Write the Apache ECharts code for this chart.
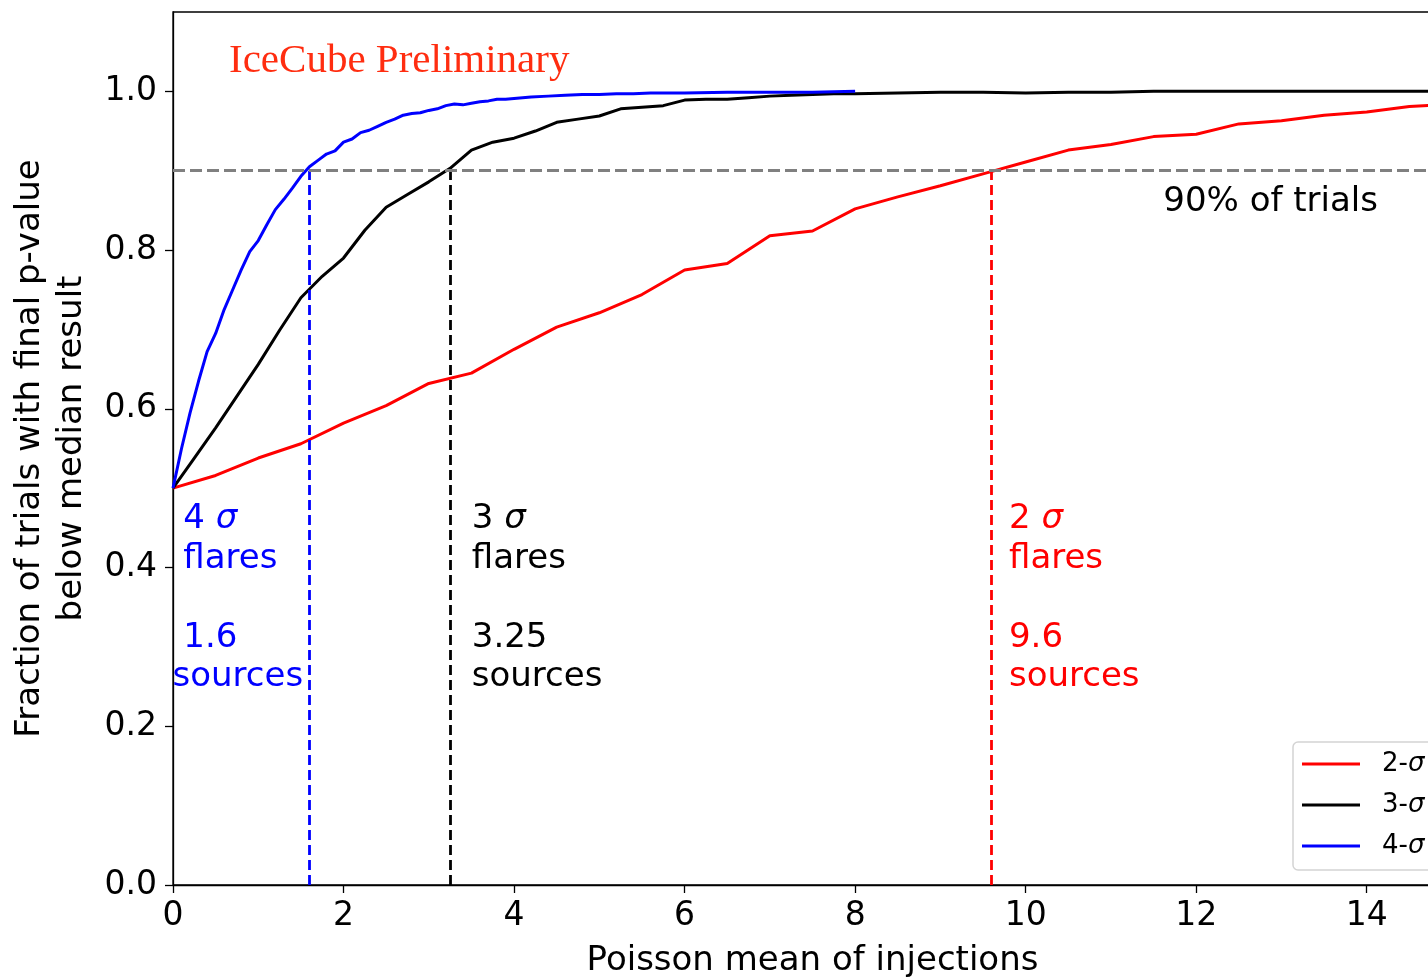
<!DOCTYPE html>
<html>
<head>
<meta charset="utf-8">
<script src="https://cdn.jsdelivr.net/npm/echarts@6/dist/echarts.min.js"></script>
<style>
html,body{margin:0;padding:0;background:#fff;}
#chart{width:1428px;height:978px;}
</style>
</head>
<body>
<div id="chart"></div>
<script>
// ---- data ----
const xTicks = [0, 2, 4, 6, 8, 10, 12, 14];
const yTicks = [0, 0.2, 0.4, 0.6, 0.8, 1.0];

const redX = [0,0.5,1,1.5,2,2.5,3,3.5,4,4.5,5,5.5,6,6.5,7,7.5,8,8.5,9,9.5,10,10.5,11,11.5,12,12.5,13,13.5,14,14.5,15];
const redY = [0.500,0.516,0.538,0.556,0.582,0.604,0.632,0.645,0.675,0.703,0.721,0.744,0.775,0.783,0.818,0.824,0.852,0.867,0.881,0.896,0.911,0.926,0.933,0.943,0.946,0.959,0.963,0.970,0.974,0.981,0.984];

const blackX = [0,0.25,0.5,0.75,1,1.25,1.5,1.75,2,2.25,2.5,2.75,3,3.25,3.5,3.75,4,4.25,4.5,4.75,5,5.25,5.5,5.75,6,6.25,6.5,6.75,7,7.25,7.5,7.75,8,8.5,9,9.5,10,10.5,11,11.5,12,12.5,13,13.5,14,14.5,15];
const blackY = [0.500,0.538,0.576,0.616,0.656,0.699,0.740,0.767,0.790,0.825,0.854,0.870,0.886,0.903,0.926,0.936,0.941,0.950,0.961,0.965,0.969,0.978,0.980,0.982,0.989,0.990,0.990,0.992,0.994,0.995,0.996,0.997,0.997,0.998,0.999,0.999,0.998,0.999,0.999,1.000,1.000,1.000,1.000,1.000,1.000,1.000,1.000];

const blueX = [0,0.1,0.2,0.3,0.4,0.5,0.6,0.7,0.8,0.9,1.0,1.1,1.2,1.3,1.4,1.5,1.6,1.7,1.8,1.9,2.0,2.1,2.2,2.3,2.4,2.5,2.6,2.7,2.8,2.9,3.0,3.1,3.2,3.3,3.4,3.5,3.6,3.7,3.8,3.9,4.0,4.2,4.4,4.6,4.8,5.0,5.2,5.4,5.6,5.8,6.0,6.5,7.0,7.5,8.0];
const blueY = [0.500,0.550,0.595,0.635,0.672,0.695,0.725,0.750,0.775,0.798,0.812,0.832,0.851,0.864,0.878,0.893,0.905,0.913,0.921,0.925,0.936,0.940,0.948,0.951,0.956,0.961,0.965,0.970,0.972,0.973,0.976,0.978,0.982,0.984,0.983,0.985,0.987,0.988,0.990,0.990,0.991,0.993,0.994,0.995,0.996,0.996,0.997,0.997,0.998,0.998,0.998,0.999,0.999,0.999,1.000];

const seriesNames = ['2-σ', '3-σ', '4-σ'];
const seriesColors = ['#ff0000', '#000000', '#0000ff'];
const threshold = 0.9;
const sourcesAt = [9.6, 3.25, 1.6];   // red, black, blue

const zip = (xs, ys) => xs.map((x, i) => [x, ys[i]]);

const FONT = 'DejaVu Sans';
const chart = echarts.init(document.getElementById('chart'), null, {renderer: 'canvas'});

function vLine(x, color) {
  return {
    silent: true,
    symbol: ['none', 'none'],
    label: {show: false},
    lineStyle: {color: color, type: [10, 5], width: 2.8},
    data: [[{coord: [x, 0]}, {coord: [x, threshold]}]]
  };
}

const annoRich = (color) => ({
  n: {fontFamily: FONT, fontSize: 34, color: color, lineHeight: 39.5},
  s: {fontFamily: FONT, fontSize: 34, color: color, lineHeight: 39.5, fontStyle: 'italic'}
});

function annotation(x, y, formatter, color) {
  return {
    type: 'scatter',
    silent: true,
    symbolSize: 1,
    itemStyle: {color: 'rgba(0,0,0,0)', opacity: 1},
    z: 5,
    data: [[x, y]],
    label: {
      show: true,
      opacity: 1,
      position: [0, 0],
      align: 'left',
      verticalAlign: 'top',
      lineHeight: 39.5,
      formatter: formatter,
      rich: annoRich(color)
    }
  };
}

const option = {
  animation: false,
  backgroundColor: '#ffffff',
  title: {
    text: 'IceCube Preliminary',
    left: 229,
    top: 41,
    padding: 0,
    textStyle: {fontFamily: 'Liberation Serif', fontSize: 41, fontWeight: 'normal', color: '#ff2d10'}
  },
  grid: {
    left: 173, right: -24, top: 12, bottom: 93,
    outerBoundsMode: 'none',
    containLabel: false,
    show: true, borderColor: '#000', borderWidth: 1.3, backgroundColor: 'transparent'
  },
  legend: {
    data: seriesNames,
    orient: 'vertical',
    left: 1293,
    top: 742,
    padding: [7, 60, 9, 9],
    itemGap: 11,
    itemWidth: 58,
    itemHeight: 3,
    icon: 'rect',
    backgroundColor: 'rgba(255,255,255,0.85)',
    borderColor: '#d4d4d4',
    borderWidth: 1.5,
    borderRadius: 5,
    formatter: (name) => '{g| }{n|' + name.slice(0, 2) + '}{s|σ}',
    textStyle: {
      fontFamily: FONT, fontSize: 26, color: '#000', lineHeight: 30,
      rich: {
        g: {width: 17, fontSize: 26, lineHeight: 30},
        n: {fontFamily: FONT, fontSize: 26, color: '#000', lineHeight: 30},
        s: {fontFamily: FONT, fontSize: 26, color: '#000', lineHeight: 30, fontStyle: 'italic'}
      }
    }
  },
  xAxis: {
    type: 'value',
    min: 0, max: 15, interval: 2,
    name: 'Poisson mean of injections',
    nameLocation: 'middle',
    nameGap: 56,
    nameTextStyle: {fontFamily: FONT, fontSize: 34, color: '#000', lineHeight: 40},
    axisLine: {show: true, lineStyle: {color: '#000', width: 1.3}},
    axisTick: {show: true, inside: false, length: 8, lineStyle: {color: '#000', width: 1.3}, customValues: xTicks},
    axisLabel: {fontFamily: FONT, fontSize: 33, color: '#000', margin: 15, customValues: xTicks},
    splitLine: {show: false}
  },
  yAxis: {
    type: 'value',
    min: 0, max: 1.1, interval: 0.2,
    name: 'Fraction of trials with final p-value\nbelow median result',
    nameLocation: 'middle',
    nameRotate: 90,
    nameGap: 72,
    nameTextStyle: {fontFamily: FONT, fontSize: 34, color: '#000', lineHeight: 42, align: 'center'},
    axisLine: {show: true, lineStyle: {color: '#000', width: 1.3}},
    axisTick: {show: true, inside: false, length: 8, lineStyle: {color: '#000', width: 1.3}, customValues: yTicks},
    axisLabel: {fontFamily: FONT, fontSize: 33, color: '#000', margin: 16, customValues: yTicks,
      formatter: (v) => Number(v).toFixed(1)},
    splitLine: {show: false}
  },
  series: [
    {
      name: seriesNames[0], type: 'line', data: zip(redX, redY), symbol: 'none',
      lineStyle: {color: seriesColors[0], width: 3}, itemStyle: {color: seriesColors[0]},
      markLine: vLine(sourcesAt[0], seriesColors[0]), z: 3
    },
    {
      name: seriesNames[1], type: 'line', data: zip(blackX, blackY), symbol: 'none',
      lineStyle: {color: seriesColors[1], width: 3}, itemStyle: {color: seriesColors[1]},
      markLine: vLine(sourcesAt[1], seriesColors[1]), z: 3
    },
    {
      name: seriesNames[2], type: 'line', data: zip(blueX, blueY), symbol: 'none',
      lineStyle: {color: seriesColors[2], width: 3}, itemStyle: {color: seriesColors[2]},
      markLine: vLine(sourcesAt[2], seriesColors[2]), z: 3
    },
    {
      name: 'threshold', type: 'line', data: [], symbol: 'none', z: 2,
      markLine: {
        silent: true, symbol: ['none', 'none'], label: {show: false},
        lineStyle: {color: '#808080', type: [12, 5], width: 3},
        data: [{yAxis: threshold}]
      }
    },
    annotation(0, 0.485, '{n| 4 }{s|σ}\n{n| flares}\n{n| }\n{n| 1.6}\n{n|sources}', '#0000ff'),
    annotation(3.51, 0.485, '{n|3 }{s|σ}\n{n|flares}\n{n| }\n{n|3.25}\n{n|sources}', '#000000'),
    annotation(9.81, 0.485, '{n|2 }{s|σ}\n{n|flares}\n{n| }\n{n|9.6}\n{n|sources}', '#ff0000'),
    annotation(11.62, 0.885, '{n|90% of trials}', '#000000')
  ]
};

chart.setOption(option);
</script>
</body>
</html>
